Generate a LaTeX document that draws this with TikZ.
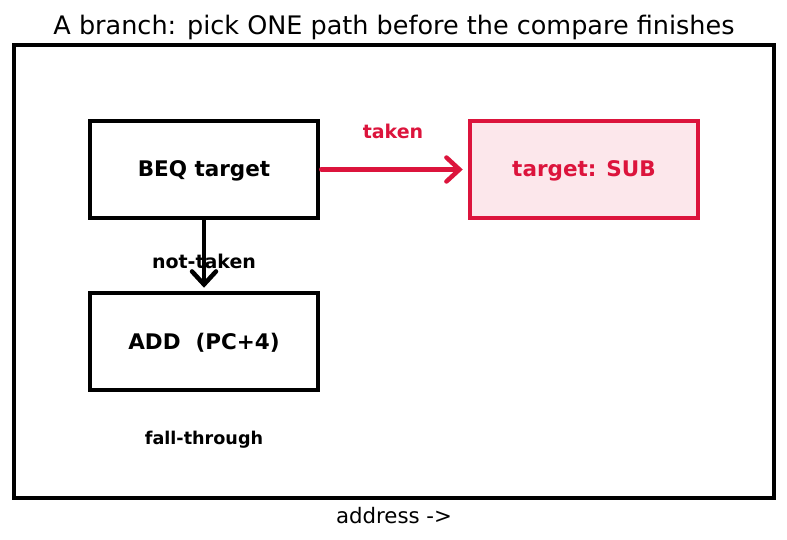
\documentclass[tikz,border=0pt]{standalone}
\usepackage{fontspec}
\setmainfont{DejaVu Sans}
\usetikzlibrary{arrows.meta}
\definecolor{crim}{HTML}{DC143C}
\definecolor{crimfill}{HTML}{FCE7EB}
\newcommand{\boxtxt}[1]{\raisebox{-7.5pt}[0pt][0pt]{#1}}
\begin{document}
\begin{tikzpicture}[x=1pt,y=-1pt,
  box/.style={draw=black,line width=4.5pt,minimum width=228pt,minimum height=97pt,inner sep=0pt,font=\fontsize{21.5}{24}\selectfont\bfseries},
  redbox/.style={box,draw=crim,fill=crimfill,text=crim},
  lbl/.style={inner sep=0pt,font=\fontsize{19}{22}\selectfont\bfseries},
  arr/.style={line width=4.5pt,line cap=round,-{Straight Barb[length=13pt,width=24pt,line width=4.5pt,line cap=round]}}]
\useasboundingbox (0,0) rectangle (787,540);
\node[draw=black,line width=4.5pt,minimum width=760pt,minimum height=453pt,inner sep=0pt] (frame) at (394,271.5) {};
\node[inner sep=0pt,font=\fontsize{25.5}{30}\selectfont] (title) at (394,27.5) {A branch: pick ONE path before the compare finishes};
\node[inner sep=0pt,font=\fontsize{21.3}{25}\selectfont] (xlab) at (394,516) {address ->};
\node[box] (beq) at (204,169.5) {\boxtxt{BEQ target}};
\node[box] (add) at (204,341.5) {\boxtxt{ADD\ \ (PC+4)}};
\node[redbox] (tgt) at (584,169.5) {\boxtxt{target: SUB}};
\draw[arr,crim] ([xshift=1pt]beq.east) -- ([xshift=-5pt]tgt.west);
\draw[arr] (beq.south) -- ([yshift=3pt]add.north);
\node[lbl,text=crim] (taken) at (393,131) {taken};
\node[lbl] (nt) at (204,261) {not-taken};
\node[lbl,font=\fontsize{17.6}{20}\selectfont\bfseries] (ft) at (204,440) {fall-through};
\end{tikzpicture}
\end{document}
